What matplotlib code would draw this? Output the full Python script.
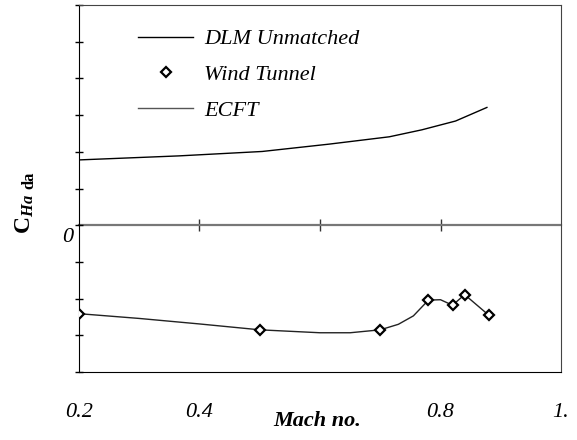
import matplotlib
matplotlib.use("Agg")
import matplotlib.pyplot as plt
from matplotlib.font_manager import FontProperties
from matplotlib.transforms import ScaledTranslation

plt.rcParams['font.family'] = ['Liberation Serif', 'DejaVu Serif']
plt.rcParams['mathtext.fontset'] = 'custom'
plt.rcParams['mathtext.rm'] = 'Liberation Serif'
plt.rcParams['mathtext.it'] = 'Liberation Serif:italic'
plt.rcParams['mathtext.bf'] = 'Liberation Serif:bold'
plt.rcParams['mathtext.bfit'] = 'Liberation Serif:bold:italic'

# upper curve
dlm_mach = [0.2, 0.366, 0.504, 0.615, 0.715, 0.769, 0.825, 0.877]
dlm_val = [1.78, 1.89, 2.01, 2.21, 2.41, 2.60, 2.84, 3.21]

# lower curve
ecft_mach = [0.2, 0.3, 0.4, 0.5, 0.6, 0.65, 0.7, 0.73, 0.755, 0.78, 0.8, 0.82, 0.84, 0.88]
ecft_val = [-2.41, -2.54, -2.69, -2.85, -2.93, -2.93, -2.85, -2.70, -2.47, -2.04, -2.03, -2.18, -1.89, -2.45]

# wind tunnel points
wt_mach = [0.2, 0.5, 0.7, 0.78, 0.82, 0.84, 0.88]
wt_val = [-2.41, -2.85, -2.85, -2.04, -2.18, -1.89, -2.45]

x_ticks = [0.2, 0.4, 0.6, 0.8, 1.0]
x_labels = ["0.2", "0.4", "", "0.8", "1."]
y_ticks = list(range(-4, 7))

italic = FontProperties(family='Liberation Serif', style='italic', size=16)

fig = plt.figure(figsize=(5.77, 4.4), dpi=100)
ax = fig.add_axes([0.1369, 0.1545, 0.8354, 0.834])

ax.plot(dlm_mach, dlm_val, color='black', lw=1.0, label='DLM Unmatched')
ax.plot(wt_mach, wt_val, ls='none', marker='D', ms=5.3, mfc='white', mec='black',
        mew=1.6, label='Wind Tunnel', zorder=4)
ax.plot(ecft_mach, ecft_val, color='#222222', lw=1.0, label='ECFT')

ax.set_xlim(0.2, 1.0)
ax.set_ylim(-4, 6)

ax.set_xticks(x_ticks)
ax.set_xticklabels(x_labels, fontproperties=italic)
ax.tick_params(axis='x', length=0, pad=22)

ax.set_yticks(y_ticks)
ax.set_yticklabels(["0" if t == 0 else "" for t in y_ticks], fontproperties=italic)
ax.tick_params(axis='y', direction='inout', length=6, width=1, pad=1)
for lab in ax.get_yticklabels():
    lab.set_transform(lab.get_transform() + ScaledTranslation(0, -7 / 72, fig.dpi_scale_trans))

for s in ['top', 'right']:
    ax.spines[s].set_color('#444444')
for s in ['left', 'bottom']:
    ax.spines[s].set_color('black')

# zero line with its own ticks
sec = ax.secondary_xaxis(0.4)
sec.set_xticks([0.4, 0.6, 0.8])
sec.set_xticklabels([])
sec.tick_params(direction='inout', length=9, width=1, color='#333333')
sec.spines['bottom'].set_color('#777777')
sec.spines['bottom'].set_linewidth(1.6)

leg = ax.legend(loc='upper left', bbox_to_anchor=(0.122, 0.935), frameon=False,
                borderpad=0, borderaxespad=0, handlelength=2.5, handletextpad=0.5,
                labelspacing=0.68, prop=italic)
leg.get_lines()[2].set_color('#555555')

fig.text(317 / 577, 1 - 421 / 440, 'Mach no.', fontsize=16, fontweight='bold',
         fontstyle='italic', ha='center', va='center')
fig.text(25 / 577, 1 - 214 / 440, r'$\mathbf{C}_{\mathbfit{Ha}}$',
         fontsize=17, rotation=90, ha='center', va='center')
fig.text(29 / 577, 1 - 180 / 440, 'da', fontsize=12, fontweight='bold',
         rotation=90, ha='center', va='center')

fig.savefig('out.png', dpi=100)
